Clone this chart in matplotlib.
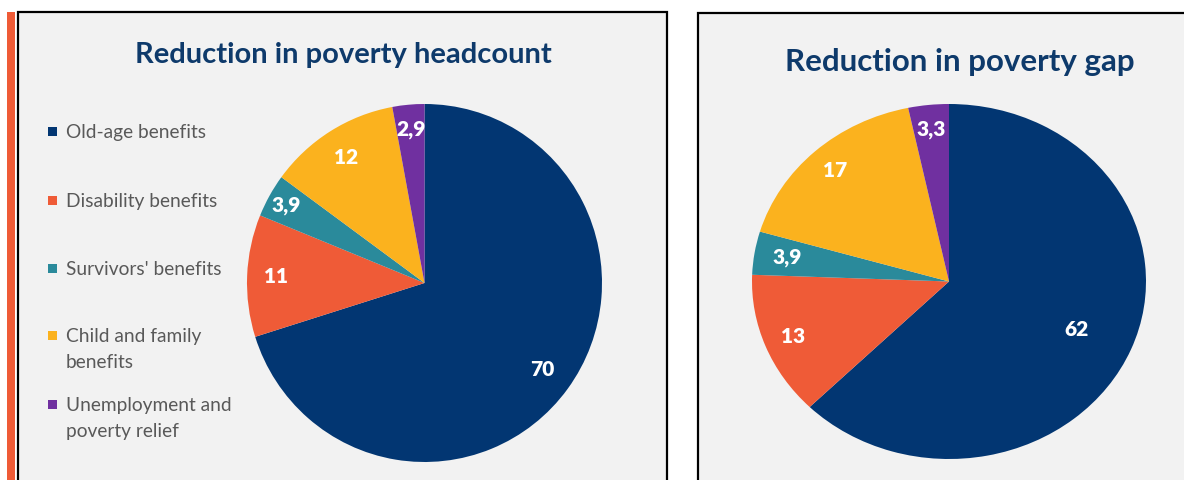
import numpy as np
import matplotlib
matplotlib.use("Agg")
import matplotlib.pyplot as plt
from matplotlib.patches import Rectangle

# data
categories = ["Old-age benefits", "Disability benefits", "Survivors' benefits",
              "Child and family\nbenefits", "Unemployment and\npoverty relief"]
headcount = [70, 11, 3.9, 12, 2.9]
gap = [62, 13, 3.9, 17, 3.3]
headcount_labels = ["70", "11", "3,9", "12", "2,9"]
gap_labels = ["62", "13", "3,9", "17", "3,3"]
titles = ["Reduction in poverty headcount", "Reduction in poverty gap"]

colors = ["#023672", "#EF5B37", "#2A8A9B", "#FBB21E", "#7030A0"]
navy_title = "#0E3A6B"
W, H = 1184, 480

plt.rcParams['font.family'] = ['Lato', 'DejaVu Sans']

fig = plt.figure(figsize=(W / 100, H / 100), dpi=100)
fig.patch.set_facecolor("white")

# background axes in pixel coordinates
bg = fig.add_axes([0, 0, 1, 1])
bg.set_xlim(0, W)
bg.set_ylim(H, 0)
bg.axis("off")

# orange side bar
bg.add_patch(Rectangle((7, 12), 8, 480, facecolor="#EF5B37", edgecolor="none"))
# panels
bg.add_patch(Rectangle((18, 12), 649, 490, facecolor="#F2F2F2", edgecolor="black", lw=1.6))
bg.add_patch(Rectangle((698, 13), 520, 490, facecolor="#F2F2F2", edgecolor="black", lw=1.6))

# titles
bg.text(343, 55, titles[0], ha="center", va="center", fontsize=21,
        fontweight="bold", color=navy_title)
bg.text(960, 62, titles[1], ha="center", va="center", fontsize=22.5,
        fontweight="bold", color=navy_title)

# legend drawn by hand, marker lines up with first text line
leg_y = [131, 200, 268, 335, 404]
for i, name in enumerate(categories):
    bg.add_patch(Rectangle((48, leg_y[i] - 4.5), 9, 9, facecolor=colors[i], edgecolor="none"))
    for k, line in enumerate(name.split("\n")):
        bg.text(66, leg_y[i] + 26 * k, line, ha="left", va="center_baseline", fontsize=13.8,
                color="#595959")


def draw_pie(box, values, labels, radii):
    # box = (left, top, right, bottom) in pixels
    l, t, r, b = box
    ax = fig.add_axes([l / W, (H - b) / H, (r - l) / W, (b - t) / H])
    wedges, _ = ax.pie(values, colors=colors, startangle=90, counterclock=False,
                       radius=1, wedgeprops=dict(linewidth=0))
    ax.set_aspect("auto")
    ax.set_xlim(-1, 1)
    ax.set_ylim(-1, 1)
    ax.axis("off")
    for w, lab, rr in zip(wedges, labels, radii):
        ang = np.deg2rad((w.theta1 + w.theta2) / 2)
        ax.text(rr * np.cos(ang), rr * np.sin(ang), lab, ha="center", va="center",
                fontsize=15, fontweight="heavy", color="white")
    return ax


draw_pie((247, 104, 602, 462), headcount, headcount_labels, [0.82, 0.84, 0.89, 0.83, 0.86])
draw_pie((752, 104, 1146, 459), gap, gap_labels, [0.70, 0.85, 0.83, 0.85, 0.86])

fig.savefig("out.png", dpi=100)
